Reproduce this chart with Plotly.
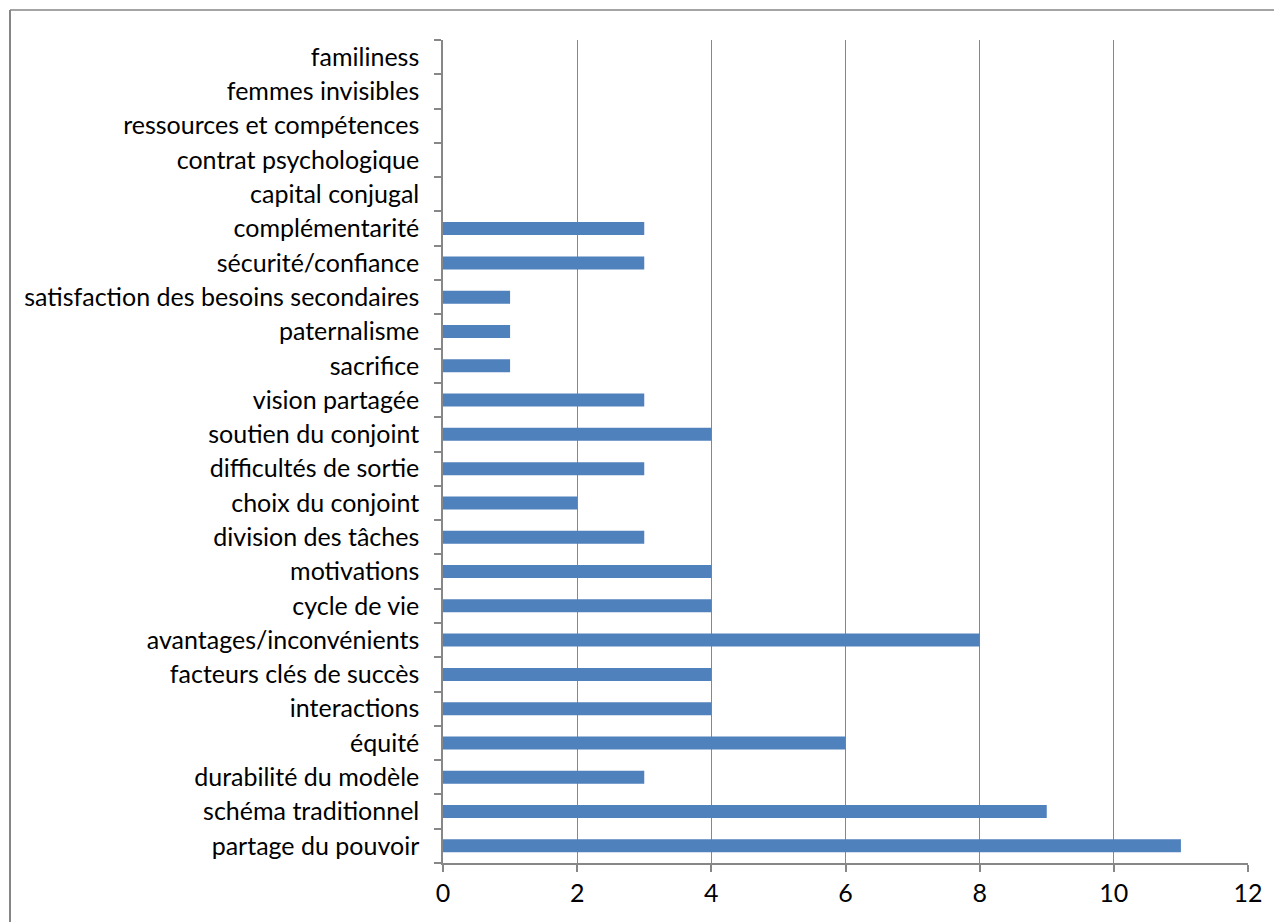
import plotly.graph_objects as go

categories = [
    "partage du pouvoir", "schéma traditionnel", "durabilité du modèle", "équité",
    "interactions", "facteurs clés de succès", "avantages/inconvénients", "cycle de vie",
    "motivations", "division des tâches", "choix du conjoint", "difficultés de sortie",
    "soutien du conjoint", "vision partagée", "sacrifice", "paternalisme",
    "satisfaction des besoins secondaires", "sécurité/confiance", "complémentarité",
    "capital conjugal", "contrat psychologique", "ressources et compétences",
    "femmes invisibles", "familiness",
]
values = [11, 9, 3, 6, 4, 4, 8, 4, 4, 3, 2, 3, 4, 3, 1, 1, 1, 3, 3, 0, 0, 0, 0, 0]
x_ticks = [0, 2, 4, 6, 8, 10, 12]

# page body has an 8px margin, so the figure is drawn 8px in from the window edge
OFF = 8
W, H = 1282 - OFF, 922 - OFF
L, T = 443 - OFF, 40 - OFF
R = W - (1248 - OFF)
B = H - (863 - OFF)
pw, ph = W - L - R, H - T - B

def px_x(p):
    return (p - OFF - L) / pw

def px_y(p):
    return 1 - (p - OFF - T) / ph

fig = go.Figure(go.Bar(
    x=values, y=categories, orientation="h",
    marker=dict(color="#4F81BD", line=dict(width=0)),
    width=0.38,
))

grid = "#878787"
fig.update_layout(
    width=W, height=H,
    margin=dict(l=L, r=R, t=T, b=B, pad=0),
    paper_bgcolor="white", plot_bgcolor="white",
    font=dict(family="Lato, 'Open Sans', sans-serif", size=25, color="#000000"),
    showlegend=False,
    xaxis=dict(
        range=[0, 12], tickvals=x_ticks, ticktext=[str(v) for v in x_ticks],
        showgrid=True, gridcolor=grid, gridwidth=1.3,
        showline=True, linecolor=grid, linewidth=1.5,
        ticks="outside", ticklen=7, tickcolor=grid, tickwidth=1.5,
        zeroline=False, fixedrange=True,
        tickfont=dict(size=25),
    ),
    yaxis=dict(
        type="category", categoryorder="array", categoryarray=categories,
        showgrid=False, showline=True, linecolor=grid, linewidth=1.5,
        ticks="outside", ticklen=7, tickcolor=grid, tickwidth=1.5,
        tickson="boundaries", ticklabelstandoff=17,
        zeroline=False, fixedrange=True,
        tickfont=dict(size=25),
    ),
    shapes=[
        dict(type="line", xref="paper", yref="paper",
             x0=px_x(10), x1=px_x(1300), y0=px_y(10), y1=px_y(10),
             line=dict(color="#868686", width=1.5)),
        dict(type="line", xref="paper", yref="paper",
             x0=px_x(10), x1=px_x(10), y0=px_y(10), y1=px_y(940),
             line=dict(color="#868686", width=2)),
    ],
)

fig.write_html("out.html")
